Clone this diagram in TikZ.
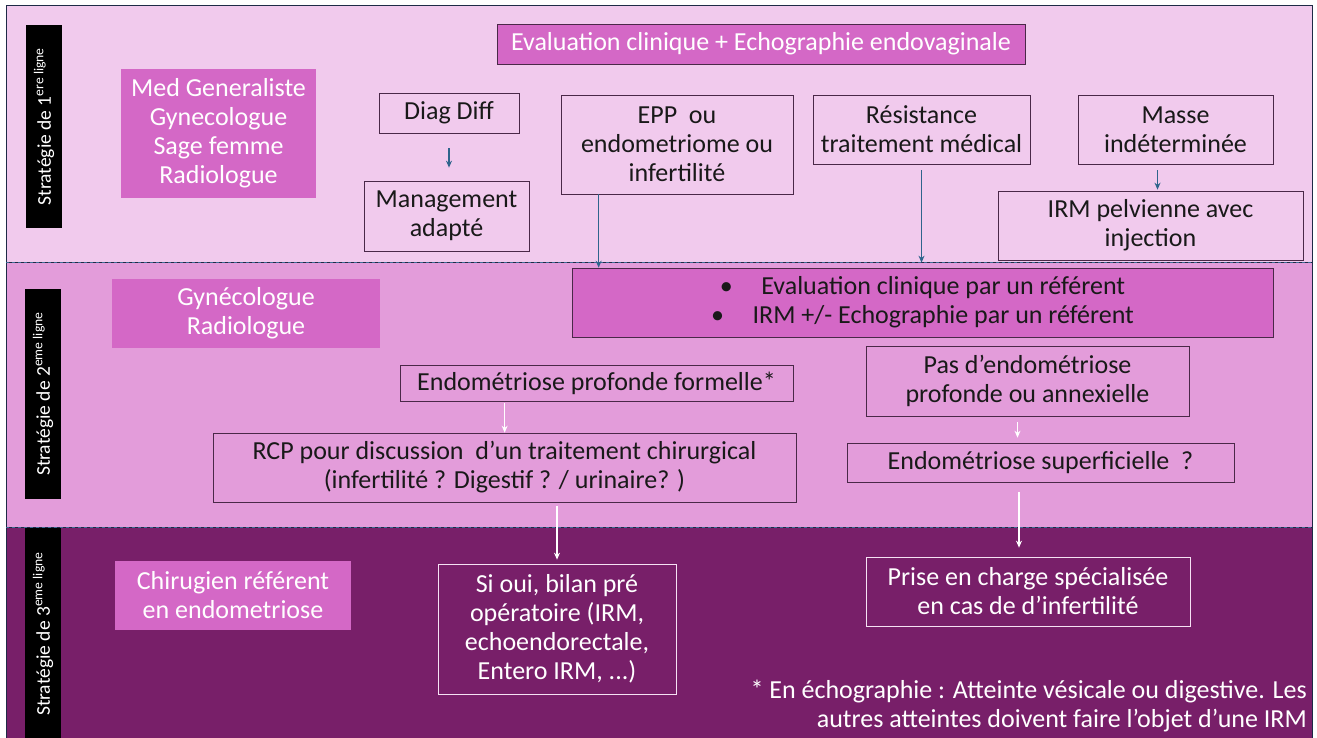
\documentclass[tikz,border=0pt]{standalone}
\usepackage{fontspec}
\setmainfont{Carlito}
\usetikzlibrary{arrows.meta}
\definecolor{bandA}{RGB}{241,202,237}
\definecolor{bandB}{RGB}{227,156,218}
\definecolor{bandC}{RGB}{120,31,105}
\definecolor{rolefill}{RGB}{212,104,198}
\definecolor{boxline}{RGB}{74,40,72}
\definecolor{frameline}{RGB}{30,42,70}
\definecolor{dashline}{RGB}{62,108,150}
\definecolor{arrowblue}{RGB}{46,100,140}
\newcommand{\strat}[2]{Strat\'egie de #1\textsuperscript{#2}}

\begin{document}
\begin{tikzpicture}[
        x=1pt,
        y=-1pt,
        >={Stealth[length=7pt, width=6pt]},
        every node/.style={font=\fontsize{26}{29}\selectfont, align=center, inner sep=0pt},
        band/.style={draw=frameline, line width=0.8pt},
        bar/.style={fill=black, text=white, rotate=90, minimum height=36, font=\fontsize{19.5}{22}\selectfont},
        role/.style={fill=rolefill, text=white},
        box/.style={draw=boxline, line width=0.7pt, text=black!90},
        wbox/.style={draw=white!80!rolefill, line width=0.7pt, text=white},
        blue arrow/.style={->, draw=arrowblue, line width=1.1pt},
        white arrow/.style={->, draw=white, line width=1.1pt}
    ]
    \useasboundingbox (0,0) rectangle (1317,738);

    % bands
    \path[band, fill=bandA] (6,5) rectangle (1312,262);
    \path[band, fill=bandB] (6,262) rectangle (1312,527);
    \path[band, fill=bandC] (6,527) rectangle (1312,740);
    \draw[dashline, dashed, line width=1pt] (6,262) -- (1312,262);
    \draw[dashline, dashed, line width=1pt] (6,527) -- (1312,527);

    \node[bar, minimum width=203] (lab1) at (44,126.5) {\strat{1}{ere ligne}};
    \node[bar, minimum width=210] (lab2) at (43,394) {\strat{2}{eme ligne}};
    \node[bar, minimum width=212] (lab3) at (43,634) {\strat{3}{eme ligne}};

    % first line
    \node[box, role, minimum width=528, minimum height=40] (eval) at (761,44)
        {Evaluation clinique + Echographie endovaginale};
    \node[role, minimum width=195, minimum height=129] (roles1) at (218.5,133.5)
        {Med Generaliste\\Gynecologue\\Sage femme\\Radiologue};
    \node[box, minimum width=140, minimum height=40] (diag) at (449,113) {Diag Diff};
    \node[box, minimum width=165, minimum height=70] (mgmt) at (446.5,216) {Management\\adapté};
    \node[box, minimum width=232, minimum height=99] (epp) at (677,144.5)
        {EPP\ \ ou\\endometriome ou\\infertilité};
    \node[box, minimum width=217, minimum height=69] (resist) at (921.5,129.5)
        {Résistance\\traitement médical};
    \node[box, minimum width=195, minimum height=69] (masse) at (1175.5,129.5)
        {Masse\\indéterminée};
    \node[box, minimum width=305, minimum height=69] (irm) at (1150.5,225.5)
        {IRM pelvienne avec\\injection};

    % second line
    \node[box, role, text=black!90, minimum width=701, minimum height=69] (eval2) at (922.5,302.5)
        {\textbullet\hspace{1.1em}Evaluation clinique par un référent\\
         \textbullet\hspace{1.1em}IRM +/- Echographie par un référent};
    \node[role, minimum width=268, minimum height=69] (roles2) at (246,313.5)
        {Gynécologue\\Radiologue};
    \node[box, minimum width=393, minimum height=36] (epf) at (596.5,383)
        {Endométriose profonde formelle*};
    \node[box, minimum width=583, minimum height=69] (rcp) at (504.5,467.5)
        {RCP pour discussion\ \ d’un traitement chirurgical\\(infertilité ? Digestif ? / urinaire? )};
    \node[box, minimum width=323, minimum height=70] (pas) at (1027.5,381)
        {Pas d’endométriose\\profonde ou annexielle};
    \node[box, minimum width=387, minimum height=39] (sup) at (1040.5,462.5)
        {Endométriose superficielle\ \ ?};

    % third line
    \node[role, minimum width=236, minimum height=69] (roles3) at (233,595.5)
        {Chirugien référent\\en endometriose};
    \node[wbox, minimum width=238, minimum height=130] (bilan) at (557,629)
        {Si oui, bilan pré\\opératoire (IRM,\\echoendorectale,\\Entero IRM, ...)};
    \node[wbox, minimum width=324, minimum height=69] (prise) at (1028,591.5)
        {Prise en charge spécialisée\\en cas de d’infertilité};
    \node[text=white, align=right, anchor=east] (note) at (1307,706)
        {* En échographie : Atteinte vésicale ou digestive. Les\\
         autres atteintes doivent faire l’objet d’une IRM};

    % arrows
    \draw[blue arrow, shorten <=15, shorten >=13] (diag.south) -- (diag.south |- mgmt.north);
    \draw[blue arrow] ([xshift=38]epp.south west) -- ([xshift=38]epp.south west |- eval2.north);
    \draw[blue arrow, shorten <=6, shorten >=5] (resist.south) -- (resist.south |- eval2.north);
    \draw[blue arrow, shorten <=6, shorten >=1] ([xshift=-18]masse.south) -- ([xshift=-18]masse.south |- irm.north);

    \draw[white arrow, shorten <=2] ([xshift=105]epf.south west) -- ([xshift=105]epf.south west |- rcp.north);
    \draw[white arrow, shorten <=4, shorten >=4] (bilan.north |- rcp.south) -- (bilan.north);
    \draw[white arrow, shorten <=6, shorten >=5] ([xshift=-10]pas.south) -- ([xshift=-10]pas.south |- sup.north);
    \draw[white arrow, shorten <=10, shorten >=9] ([xshift=-9]prise.north |- sup.south) -- ([xshift=-9]prise.north);
\end{tikzpicture}
\end{document}
